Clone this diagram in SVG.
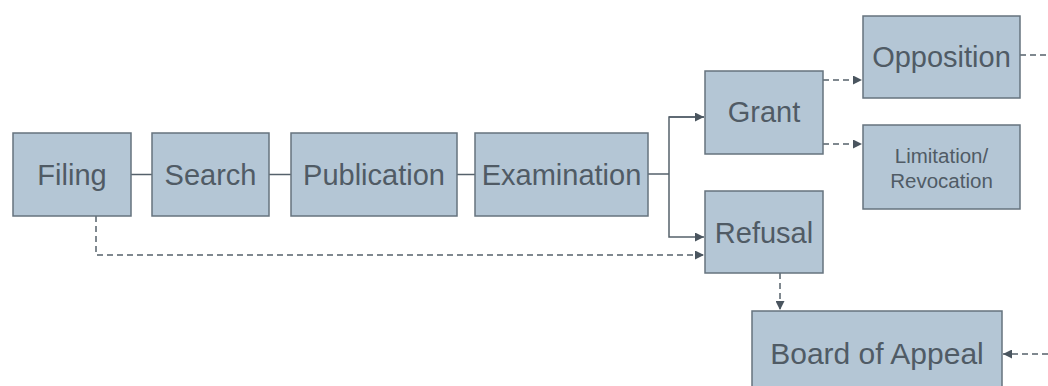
<svg xmlns="http://www.w3.org/2000/svg" width="1048" height="386" viewBox="0 0 1048 386">
  <style>
    .box { fill: #b4c6d5; stroke: #66737e; stroke-width: 1.5; }
    .lbl { font-family: "Liberation Sans", Arial, sans-serif; fill: #505b65; text-anchor: middle; }
    .big { font-size: 29px; }
    .small { font-size: 20.5px; }
    .line { fill: none; stroke: #55616b; stroke-width: 1.5; }
    .dash { fill: none; stroke: #55616b; stroke-width: 1.5; stroke-dasharray: 6 4; }
  </style>
  <defs>
    <marker id="arrow" viewBox="0 0 10 10" refX="10" refY="5" markerWidth="9" markerHeight="9" orient="auto" markerUnits="userSpaceOnUse">
      <path d="M0,0 L10,5 L0,10 z" fill="#4a555f"/>
    </marker>
  </defs>
  <rect width="1048" height="386" fill="#ffffff"/>

  <g id="connectors">
    <!-- main sequence -->
    <line class="line" x1="131" y1="174.5" x2="152" y2="174.5"/>
    <line class="line" x1="269" y1="174.5" x2="291" y2="174.5"/>
    <line class="line" x1="457" y1="174.5" x2="475" y2="174.5"/>
    <!-- decision branch -->
    <line class="line" x1="648" y1="174" x2="669" y2="174"/>
    <polyline class="line" points="704,117 669,117 669,237 704,237" marker-end="url(#arrow)"/>
    <line class="line" x1="669" y1="117" x2="704" y2="117" marker-end="url(#arrow)"/>
    <!-- filing to refusal -->
    <polyline class="dash" points="96,216 96,255 704,255" marker-end="url(#arrow)"/>
    <!-- grant outcomes -->
    <line class="dash" x1="823" y1="80" x2="862" y2="80" marker-end="url(#arrow)"/>
    <line class="dash" x1="823" y1="144" x2="862" y2="144" marker-end="url(#arrow)"/>
    <!-- appeals -->
    <line class="dash" x1="780" y1="273" x2="780" y2="310" marker-end="url(#arrow)"/>
    <line class="dash" x1="1020" y1="55" x2="1048" y2="55"/>
    <line class="dash" x1="1048" y1="354" x2="1003" y2="354" marker-end="url(#arrow)"/>
  </g>

  <g id="filing">
    <rect class="box" x="13" y="133" width="118" height="83"/>
    <text class="lbl big" x="72" y="185">Filing</text>
  </g>
  <g id="search">
    <rect class="box" x="152" y="133" width="117" height="83"/>
    <text class="lbl big" x="210.5" y="185">Search</text>
  </g>
  <g id="publication">
    <rect class="box" x="291" y="133" width="166" height="83"/>
    <text class="lbl big" x="374" y="185">Publication</text>
  </g>
  <g id="examination">
    <rect class="box" x="475" y="133" width="173" height="83"/>
    <text class="lbl big" x="561.5" y="185">Examination</text>
  </g>
  <g id="grant">
    <rect class="box" x="705" y="71" width="118" height="83"/>
    <text class="lbl big" x="764" y="122">Grant</text>
  </g>
  <g id="refusal">
    <rect class="box" x="705" y="191" width="118" height="82"/>
    <text class="lbl big" x="764" y="243">Refusal</text>
  </g>
  <g id="opposition">
    <rect class="box" x="863" y="16" width="157" height="82"/>
    <text class="lbl big" x="941.5" y="67">Opposition</text>
  </g>
  <g id="limitation">
    <rect class="box" x="863" y="125" width="157" height="84"/>
    <text class="lbl small" x="941.5" y="163">Limitation/</text>
    <text class="lbl small" x="941.5" y="188">Revocation</text>
  </g>
  <g id="board-of-appeal">
    <rect class="box" x="752" y="311" width="250" height="90"/>
    <text class="lbl" x="877" y="364" font-size="30">Board of Appeal</text>
  </g>
</svg>
